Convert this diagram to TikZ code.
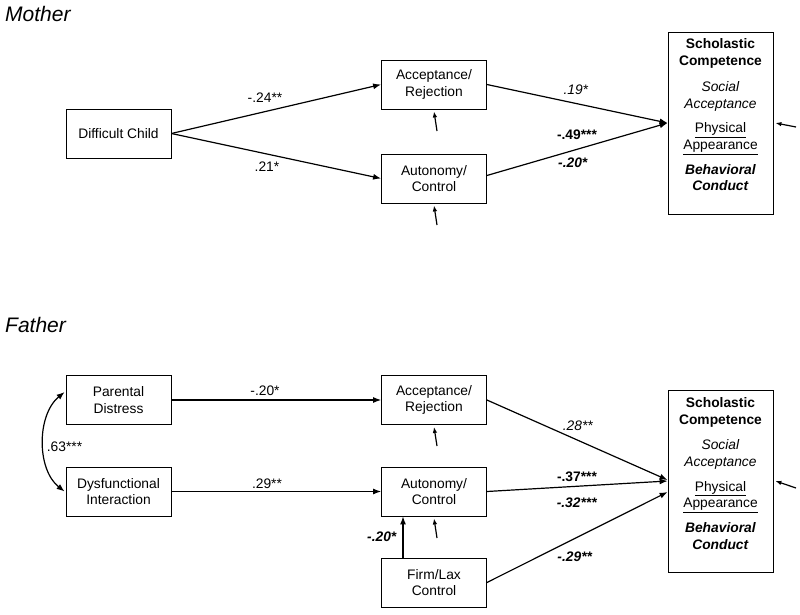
\documentclass[tikz,border=0pt]{standalone}
\usepackage{fontspec}
\setmainfont{Liberation Sans}
\usetikzlibrary{arrows.meta}
\tikzset{
    var-box/.style = {draw, line width=0.8pt, rectangle, minimum width=105pt, minimum height=49pt, align=center, inner sep=2pt, font=\fontsize{13.8}{16.7}\selectfont},
    score-box/.style = {draw, line width=0.8pt, rectangle, minimum width=105pt, minimum height=182pt},
    score-text/.style = {align=center, inner sep=0pt, font=\fontsize{13.8}{16.7}\selectfont},
    path-label/.style = {inner sep=0pt, font=\fontsize{13.8}{16.7}\selectfont},
    group-title/.style = {anchor=base west, inner sep=0pt, font=\fontsize{21}{25}\selectfont\itshape},
    path-arrow/.style = {-{Latex[length=8pt,width=6pt]}, line width=1.2pt},
    corr-arrow/.style = {{Latex[length=8pt,width=6pt]}-{Latex[length=8pt,width=6pt]}, line width=1.2pt},
    resid-arrow/.style = {-{Latex[length=6pt,width=4.5pt]}, line width=1.2pt},
}
\newcommand{\selfperception}{\textbf{Scholastic}\\\textbf{Competence}\\[9pt]\textit{Social}\\\textit{Acceptance}\\[8pt]\underline{Physical}\\\underline{Appearance}\\[8pt]\textbf{\textit{Behavioral}}\\\textbf{\textit{Conduct}}}

\begin{document}
\begin{tikzpicture}[x=1pt,y=-1pt]
\useasboundingbox (0,0) rectangle (800,615);

\node[group-title] (m-title) at (5,22) {Mother};
\node[var-box] (m-dc) at (118.5,133.5) {Difficult Child};
\node[var-box] (m-ar) at (434,84.5) {Acceptance/\\Rejection};
\node[var-box] (m-ac) at (434,178.5) {Autonomy/\\Control};
\node[score-box] (m-sc) at (720.5,123) {};
\node[score-text] (m-sc-text) at (720.5,115) {\selfperception};

\draw[path-arrow] (m-dc.east) -- (m-ar.west);
\draw[path-arrow] (m-dc.east) -- (m-ac.west);
\draw[path-arrow] (m-ar.east) -- (m-sc.west);
\draw[path-arrow] ([yshift=3pt]m-ac.east) -- (m-sc.west);

\coordinate (m-ar-e) at (437,131);
\coordinate (m-ac-e) at (437,225);
\coordinate (m-sc-e) at (796,127);
\draw[resid-arrow] (m-ar-e) -- ([yshift=-2pt]m-ar.south);
\draw[resid-arrow] (m-ac-e) -- ([yshift=-2pt]m-ac.south);
\draw[resid-arrow] (m-sc-e) -- ([xshift=2pt]m-sc.east);

\node[path-label] (m-l1) at (265,98) {-.24**};
\node[path-label] (m-l2) at (267,167) {.21*};
\node[path-label] (m-l3) at (576,90) {\textit{.19*}};
\node[path-label] (m-l4) at (577,135) {\textbf{-.49***}};
\node[path-label] (m-l5) at (573,163) {\textbf{\textit{-.20*}}};

\node[group-title] (f-title) at (5,332) {Father};
\node[var-box] (f-pd) at (118.5,400) {Parental\\Distress};
\node[var-box] (f-di) at (118.5,491.5) {Dysfunctional\\Interaction};
\node[var-box] (f-ar) at (434,400) {Acceptance/\\Rejection};
\node[var-box] (f-ac) at (434,491.5) {Autonomy/\\Control};
\node[var-box] (f-fl) at (434,582.5) {Firm/Lax\\Control};
\node[score-box] (f-sc) at (720.5,481) {};
\node[score-text] (f-sc-text) at (720.5,473.5) {\selfperception};

\draw[corr-arrow] ([xshift=-1pt,yshift=8pt]f-pd.west) .. controls +(-28,23) and +(-28,-22) .. ([xshift=-1pt]f-di.west);
\draw[path-arrow] (f-pd.east) -- (f-ar.west);
\draw[path-arrow] (f-di.east) -- (f-ac.west);
\draw[path-arrow] (f-ar.east) -- ([yshift=1pt]f-sc.west);
\draw[path-arrow] (f-ac.east) -- (f-sc.west);
\draw[path-arrow] (f-fl.east) -- ([yshift=-11pt]f-sc.west);
\draw[path-arrow] ([xshift=-31pt]f-fl.north) -- ([xshift=-31pt]f-ac.south);

\coordinate (f-ar-e) at (437,446);
\coordinate (f-ac-e) at (437,538);
\coordinate (f-sc-e) at (796,488);
\draw[resid-arrow] (f-ar-e) -- ([yshift=-2pt]f-ar.south);
\draw[resid-arrow] (f-ac-e) -- ([yshift=-2pt]f-ac.south);
\draw[resid-arrow] (f-sc-e) -- ([xshift=2pt]f-sc.east);

\node[path-label] (f-l0) at (64.5,447) {.63***};
\node[path-label] (f-l1) at (265,391) {-.20*};
\node[path-label] (f-l2) at (267,484) {.29**};
\node[path-label] (f-l3) at (578,426) {\textit{.28**}};
\node[path-label] (f-l4) at (577,477) {\textbf{-.37***}};
\node[path-label] (f-l5) at (577,503) {\textbf{\textit{-.32***}}};
\node[path-label] (f-l6) at (575,557) {\textbf{\textit{-.29**}}};
\node[path-label] (f-l7) at (382,537) {\textbf{\textit{-.20*}}};
\end{tikzpicture}
\end{document}
